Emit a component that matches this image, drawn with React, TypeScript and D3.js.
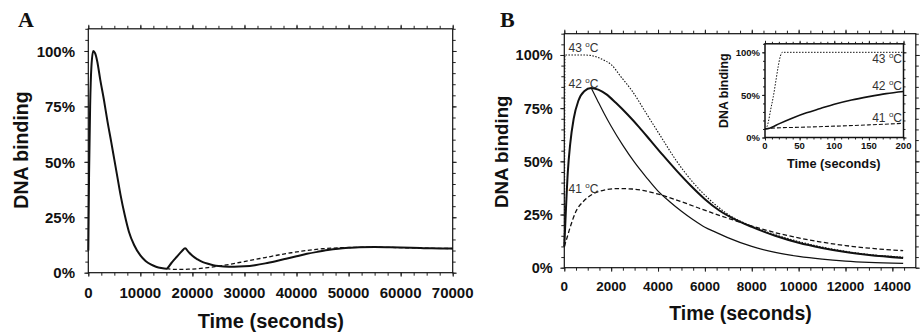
import { useEffect, useRef } from 'react'
import * as d3 from 'd3'

type Pt = [number, number]

const SANS = "'Liberation Sans', Arial, Helvetica, sans-serif"
const SERIF = "'Liberation Serif', 'Times New Roman', serif"

// ---- panel A: single heat shock vs. second shock at 15000 s
const aXTicks = [0, 10000, 20000, 30000, 40000, 50000, 60000, 70000]
const aYTicks = [0, 0.25, 0.5, 0.75, 1]
const aSolid: Pt[] = [
  [0, 0.10], [150, 0.45], [350, 0.75], [600, 0.93], [950, 1.0], [1300, 0.99],
  [1700, 0.955], [2300, 0.87], [3000, 0.78], [3700, 0.68], [4400, 0.59],
  [5000, 0.51], [5600, 0.43], [6200, 0.35], [7000, 0.26], [7800, 0.185],
  [8800, 0.125], [10000, 0.078], [11000, 0.053], [12000, 0.037],
  [13000, 0.027], [14000, 0.021], [15000, 0.018],
  [16000, 0.045], [17000, 0.072], [18000, 0.098], [18600, 0.11],
  [19200, 0.095], [20000, 0.076], [21000, 0.06], [22000, 0.048],
  [23000, 0.04], [24000, 0.034], [25000, 0.03], [26000, 0.028],
  [28000, 0.027], [30000, 0.029], [32000, 0.034], [34000, 0.042],
  [36000, 0.052], [38000, 0.063], [40000, 0.074], [42000, 0.085],
  [44000, 0.094], [46000, 0.102], [48000, 0.108], [50000, 0.112],
  [52000, 0.115], [55000, 0.116], [58000, 0.115], [62000, 0.113],
  [66000, 0.11], [70000, 0.109],
]
const aDashed: Pt[] = [
  [15000, 0.018], [16500, 0.015], [18000, 0.015], [19500, 0.016],
  [21000, 0.018], [23000, 0.023], [25000, 0.03], [27000, 0.037],
  [29000, 0.046], [31000, 0.055], [33000, 0.064], [35000, 0.073],
  [37000, 0.082], [39000, 0.09], [41000, 0.097], [43000, 0.103],
  [45000, 0.108], [47000, 0.111], [49000, 0.113], [51000, 0.114],
  [54000, 0.115], [58000, 0.114], [62000, 0.112], [66000, 0.11],
  [70000, 0.109],
]

// ---- panel B: three temperatures
const bXTicks = [0, 2000, 4000, 6000, 8000, 10000, 12000, 14000]
const bYTicks = [0, 0.25, 0.5, 0.75, 1]
const b43: Pt[] = [
  [0, 0.10], [10, 0.3], [25, 1.0], [800, 1.0], [1100, 0.998], [1400, 0.99],
  [1700, 0.975], [2000, 0.955], [2400, 0.90], [2900, 0.83], [3500, 0.725],
  [4100, 0.62], [4800, 0.50], [5500, 0.40], [6200, 0.32], [7000, 0.25],
  [8000, 0.195], [9000, 0.155], [10000, 0.123], [11000, 0.097],
  [12000, 0.077], [13000, 0.062], [14460, 0.05],
]
const b42: Pt[] = [
  [0, 0.10], [60, 0.25], [150, 0.45], [250, 0.58], [400, 0.70], [600, 0.785],
  [850, 0.83], [1150, 0.845], [1450, 0.837], [1800, 0.815], [2200, 0.775],
  [2700, 0.72], [3200, 0.66], [3700, 0.595], [4200, 0.53], [4800, 0.455],
  [5400, 0.385], [6000, 0.322], [6600, 0.27], [7300, 0.226], [8000, 0.192],
  [9000, 0.15], [10000, 0.117], [11000, 0.093], [12000, 0.074],
  [13000, 0.06], [14460, 0.046],
]
const b42fast: Pt[] = [
  [1150, 0.845], [1400, 0.79], [1700, 0.725], [2000, 0.665], [2500, 0.575],
  [3000, 0.495], [3500, 0.425], [4000, 0.36], [4500, 0.31], [5000, 0.265],
  [5500, 0.225], [6000, 0.19], [6500, 0.165], [7000, 0.14], [8000, 0.10],
  [9000, 0.072], [10000, 0.053], [11000, 0.04], [12000, 0.031],
  [13000, 0.025], [14460, 0.02],
]
const b41: Pt[] = [
  [0, 0.10], [100, 0.135], [250, 0.19], [500, 0.265], [800, 0.31],
  [1200, 0.345], [1700, 0.365], [2300, 0.372], [2900, 0.37], [3500, 0.36],
  [4100, 0.343], [4800, 0.318], [5500, 0.29], [6200, 0.262], [7000, 0.232],
  [8000, 0.196], [9000, 0.165], [10000, 0.14], [11000, 0.12],
  [12000, 0.104], [13000, 0.092], [14460, 0.08],
]

// ---- inset: first 200 s
const iXTicks = [0, 50, 100, 150, 200]
const iYTicks = [0, 0.5, 1]
const i43: Pt[] = [
  [0, 0.10], [3, 0.13], [5, 0.19], [8, 0.32], [12, 0.48], [16, 0.68],
  [19, 0.83], [22, 0.95], [25, 1.0], [200, 1.0],
]
const i42: Pt[] = [
  [0, 0.10], [5, 0.105], [10, 0.12], [20, 0.16], [40, 0.23], [60, 0.29],
  [80, 0.34], [100, 0.39], [125, 0.44], [150, 0.48], [175, 0.515], [200, 0.54],
]
const i41: Pt[] = [
  [0, 0.10], [10, 0.11], [50, 0.12], [100, 0.133], [150, 0.148], [200, 0.167],
]

type Sel = d3.Selection<SVGGElement, unknown, null, undefined>
type Lin = d3.ScaleLinear<number, number>

function frame(g: Sel, x: Lin, y: Lin, o: {
  xMinor: number[], yMinor: number[], xMajor: number[], yMajor: number[],
  major: number, minor: number, width: number,
}) {
  const [xl, xr] = x.range()
  const [yb, yt] = y.range()
  const sides: [any, string][] = [
    [d3.axisBottom(x), `translate(0,${yb})`],
    [d3.axisTop(x), `translate(0,${yt})`],
    [d3.axisLeft(y), `translate(${xl},0)`],
    [d3.axisRight(y), `translate(${xr},0)`],
  ]
  sides.forEach(([ax, tr], i) => {
    const horiz = i < 2
    const layers: [number[], number][] = [
      [horiz ? o.xMinor : o.yMinor, o.minor],
      [horiz ? o.xMajor : o.yMajor, o.major],
    ]
    layers.forEach(([vals, len]) => {
      g.append('g').attr('transform', tr)
        .call(ax.tickValues(vals).tickSize(len).tickFormat(() => ''))
        .call((a: Sel) => {
          a.select('.domain').remove()
          a.selectAll('line').attr('stroke', '#222').attr('stroke-width', 1)
        })
    })
  })
  g.append('rect')
    .attr('x', xl).attr('y', yt)
    .attr('width', xr - xl).attr('height', yb - yt)
    .attr('fill', 'none').attr('stroke', '#111').attr('stroke-width', o.width)
}

function tickLabels(g: Sel, x: Lin, y: Lin, o: {
  xTicks: number[], yTicks: number[], xBase: number, yRight: number,
  xSize: number, ySize: number, xFmt: (v: number) => string,
}) {
  g.selectAll(null).data(o.xTicks).enter().append('text')
    .attr('x', d => x(d)).attr('y', o.xBase)
    .attr('text-anchor', 'middle')
    .attr('font-family', SANS).attr('font-weight', 700)
    .attr('font-size', o.xSize).attr('fill', '#111')
    .text(d => o.xFmt(d))
  g.selectAll(null).data(o.yTicks).enter().append('text')
    .attr('x', o.yRight).attr('y', d => y(d))
    .attr('dy', '0.38em')
    .attr('text-anchor', 'end')
    .attr('font-family', SANS).attr('font-weight', 700)
    .attr('font-size', o.ySize).attr('fill', '#111')
    .text(d => `${Math.round(d * 100)}%`)
}

function title(g: Sel, txt: string, x: number, y: number, size: number, rotate = false) {
  g.append('text')
    .attr('transform', rotate ? `translate(${x},${y}) rotate(-90)` : `translate(${x},${y})`)
    .attr('text-anchor', 'middle')
    .attr('font-family', SANS).attr('font-weight', 700)
    .attr('font-size', size).attr('fill', '#111')
    .text(txt)
}

function degLabel(g: Sel, t: string, x: number, y: number, anchor: string) {
  const tx = g.append('text')
    .attr('x', x).attr('y', y)
    .attr('text-anchor', anchor)
    .attr('font-family', SANS).attr('font-size', 12).attr('fill', '#333')
  tx.append('tspan').text(`${t} `)
  tx.append('tspan').attr('font-size', 8).attr('dy', -5).text('o')
  tx.append('tspan').attr('dy', 5).text('C')
}

function curve(g: Sel, x: Lin, y: Lin, pts: Pt[], width: number, dash: string | null) {
  const line = d3.line<Pt>()
    .x(d => x(d[0])).y(d => y(d[1]))
    .curve(d3.curveMonotoneX)
  g.append('path')
    .attr('d', line(pts))
    .attr('fill', 'none').attr('stroke', '#111')
    .attr('stroke-width', width)
    .attr('stroke-dasharray', dash)
}

export default function App() {
  const svgRef = useRef<SVGSVGElement>(null)

  useEffect(() => {
    const svgEl = svgRef.current
    if (!svgEl) return
    d3.select(svgEl).selectAll('*').remove()
    const svg = d3.select(svgEl).append('g') as Sel

    // ---------- Panel A
    const ax = d3.scaleLinear().domain([0, 70000]).range([88.3, 452.7])
    const ay = d3.scaleLinear().domain([0, 1.1]).range([272.7, 28.8])
    const gA = svg.append('g') as Sel
    curve(gA, ax, ay, aDashed, 1.3, '4 2.5')
    curve(gA, ax, ay, aSolid, 2, null)
    frame(gA, ax, ay, {
      xMinor: d3.range(0, 70001, 2500), xMajor: aXTicks,
      yMinor: d3.range(0, 1.1001, 0.05), yMajor: aYTicks,
      major: 4, minor: 3, width: 1.2,
    })
    tickLabels(gA, ax, ay, {
      xTicks: aXTicks, yTicks: aYTicks, xBase: 298, yRight: 75,
      xSize: 15, ySize: 15, xFmt: v => String(v),
    })
    title(gA, 'Time (seconds)', 270.8, 327.5, 20)
    title(gA, 'DNA binding', 27.5, 150, 19.5, true)
    gA.append('text').attr('x', 18).attr('y', 27)
      .attr('font-family', SERIF).attr('font-weight', 700)
      .attr('font-size', 22).attr('fill', '#111').text('A')

    // ---------- Panel B
    const bx = d3.scaleLinear().domain([0, 15000]).range([564.3, 915.8])
    const by = d3.scaleLinear().domain([0, 1.1]).range([267.7, 33.7])
    const gB = svg.append('g') as Sel
    curve(gB, bx, by, b41, 1.3, '4.5 2.5')
    curve(gB, bx, by, b43, 1.1, '1.5 1.5')
    curve(gB, bx, by, b42fast, 1.2, null)
    curve(gB, bx, by, b42, 2, null)
    frame(gB, bx, by, {
      xMinor: d3.range(0, 14501, 500), xMajor: bXTicks,
      yMinor: d3.range(0, 1.1001, 0.05), yMajor: bYTicks,
      major: 4, minor: 3, width: 1.2,
    })
    tickLabels(gB, bx, by, {
      xTicks: bXTicks, yTicks: bYTicks, xBase: 291, yRight: 552.7,
      xSize: 13.5, ySize: 14.5, xFmt: v => String(v),
    })
    title(gB, 'Time (seconds)', 740.5, 319.5, 19.5)
    title(gB, 'DNA binding', 507.7, 151.7, 18.7, true)
    gB.append('text').attr('x', 500).attr('y', 26.7)
      .attr('font-family', SERIF).attr('font-weight', 700)
      .attr('font-size', 22).attr('fill', '#111').text('B')
    degLabel(gB, '43', 568.5, 52, 'start')
    degLabel(gB, '42', 568.5, 88, 'start')
    degLabel(gB, '41', 568.5, 193, 'start')

    // ---------- Inset
    const ix = d3.scaleLinear().domain([0, 200]).range([765, 903.5])
    const iy = d3.scaleLinear().domain([0, 1.1]).range([137.5, 43.8])
    const gI = svg.append('g') as Sel
    gI.append('rect')
      .attr('x', 765).attr('y', 43.8).attr('width', 138.5).attr('height', 93.7)
      .attr('fill', '#fff')
    curve(gI, ix, iy, i41, 1.1, '4 2')
    curve(gI, ix, iy, i43, 1, '1.5 1.5')
    curve(gI, ix, iy, i42, 1.6, null)
    frame(gI, ix, iy, {
      xMinor: d3.range(0, 201, 10), xMajor: iXTicks,
      yMinor: d3.range(0, 1.1001, 0.1), yMajor: iYTicks,
      major: 3, minor: 2, width: 1.5,
    })
    tickLabels(gI, ix, iy, {
      xTicks: iXTicks, yTicks: iYTicks, xBase: 148.5, yRight: 760,
      xSize: 9.5, ySize: 9.5, xFmt: v => String(v),
    })
    title(gI, 'Time (seconds)', 833.7, 167.5, 12.8)
    title(gI, 'DNA binding', 728.2, 90.7, 12.4, true)
    degLabel(gI, '43', 902, 63.3, 'end')
    degLabel(gI, '42', 902, 90, 'end')
    degLabel(gI, '41', 902, 121.5, 'end')
  }, [])

  return (
    <svg
      ref={svgRef}
      width={920}
      height={335}
      style={{ position: 'absolute', left: 0, top: 0, background: '#fff' }}
    />
  )
}
